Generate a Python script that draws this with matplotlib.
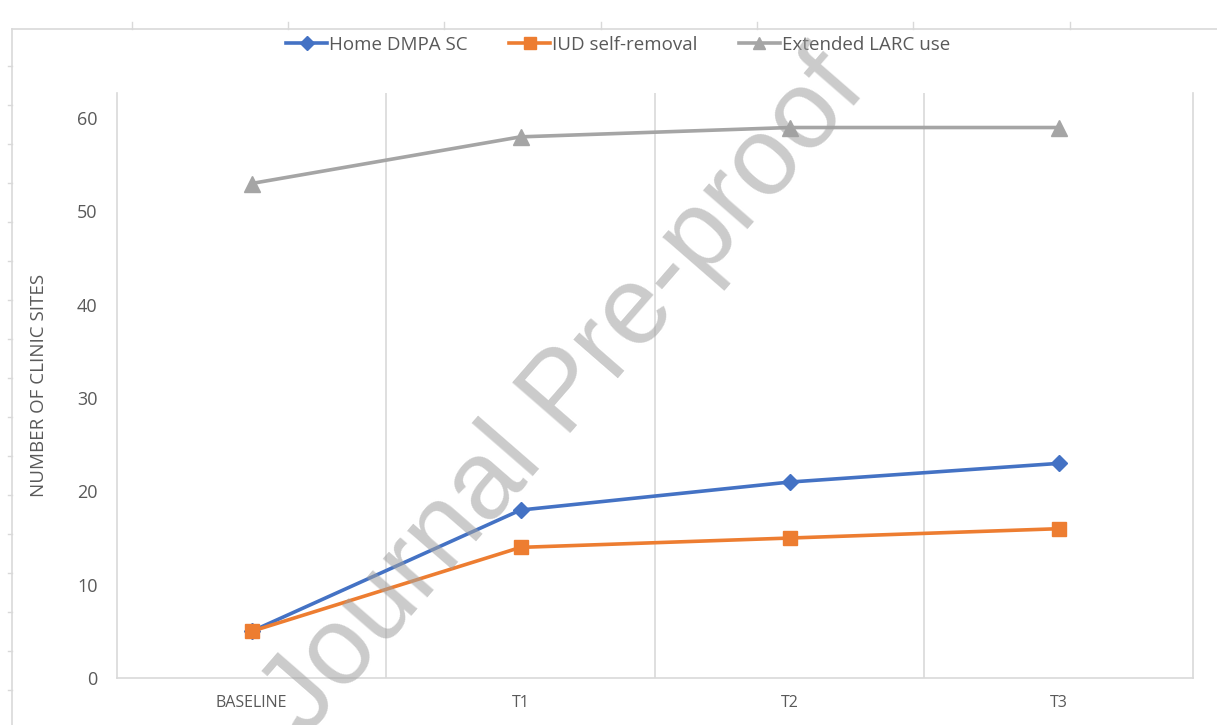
import matplotlib.pyplot as plt
from matplotlib.lines import Line2D
import numpy as np

# data
periods = ['BASELINE', 'T1', 'T2', 'T3']
home_dmpa = [5, 18, 21, 23]
iud_removal = [5, 14, 15, 16]
extended_larc = [53, 58, 59, 59]
y_ticks = [0, 10, 20, 30, 40, 50, 60]

txt = '#595959'
grid = '#d9d9d9'

fig = plt.figure(figsize=(12.17, 7.25), dpi=100)
ax = fig.add_axes([117/1217, 47/725, 1076/1217, 585/725])

x = np.arange(len(periods))
ax.plot(x, extended_larc, color='#A5A5A5', lw=2.6, marker='^', ms=11, label='Extended LARC use', zorder=3)
ax.plot(x, home_dmpa, color='#4472C4', lw=2.6, marker='D', ms=8, label='Home DMPA SC', zorder=4)
ax.plot(x, iud_removal, color='#ED7D31', lw=2.6, marker='s', ms=10, label='IUD self-removal', zorder=5)

ax.set_xlim(-0.5, 3.5)
ax.set_ylim(0, 62.7)
ax.set_xticks(x)
ax.set_xticklabels(periods, fontsize=11.5, color=txt, family='Open Sans')
ax.set_yticks(y_ticks)
ax.set_yticklabels([str(v) for v in y_ticks], fontsize=13, color=txt, family='Open Sans')
ax.tick_params(length=0, pad=14)
ax.tick_params(axis='x', pad=12)

for v in [0.5, 1.5, 2.5]:
    ax.axvline(v, color=grid, lw=1.2, zorder=1)
for s in ['left', 'right', 'bottom']:
    ax.spines[s].set_color(grid)
    ax.spines[s].set_linewidth(1.2)
ax.spines['top'].set_visible(False)

ax.set_ylabel('NUMBER OF CLINIC SITES', fontsize=13.5, color=txt, family='Open Sans')
ax.yaxis.set_label_coords(-69/1076, 0.5)

handles = [
    Line2D([], [], color='#4472C4', lw=2.6, marker='D', ms=7),
    Line2D([], [], color='#ED7D31', lw=2.6, marker='s', ms=8),
    Line2D([], [], color='#A5A5A5', lw=2.6, marker='^', ms=9),
]
fig.legend(handles, ['Home DMPA SC', 'IUD self-removal', 'Extended LARC use'],
           loc='center', bbox_to_anchor=(618/1217, 1 - 45/725), ncol=3, frameon=False,
           prop={'family': 'Open Sans', 'size': 13.5}, labelcolor=txt,
           handlelength=2.2, handletextpad=0.1, columnspacing=2.2)

# outer frame with ruler ticks
fig.add_artist(Line2D([12/1217, 1], [1 - 29/725, 1 - 29/725], color=grid, lw=1.2))
fig.add_artist(Line2D([12/1217, 12/1217], [0, 1 - 29/725], color=grid, lw=1.2))
for tx in [132, 288, 444, 601, 757, 913, 1070]:
    fig.add_artist(Line2D([tx/1217, tx/1217], [1 - 22/725, 1 - 29/725], color=grid, lw=1))
for ty in np.arange(66, 725, 39):
    fig.add_artist(Line2D([8/1217, 12/1217], [1 - ty/725, 1 - ty/725], color=grid, lw=1))

# watermark
fig.text(565/1217, 1 - 395/725, 'Journal Pre-proof', fontsize=80, family='Liberation Sans',
         color='#a0a0a0', alpha=0.55, rotation=49, ha='center', va='center', zorder=10)

fig.savefig('out.png', dpi=100)
